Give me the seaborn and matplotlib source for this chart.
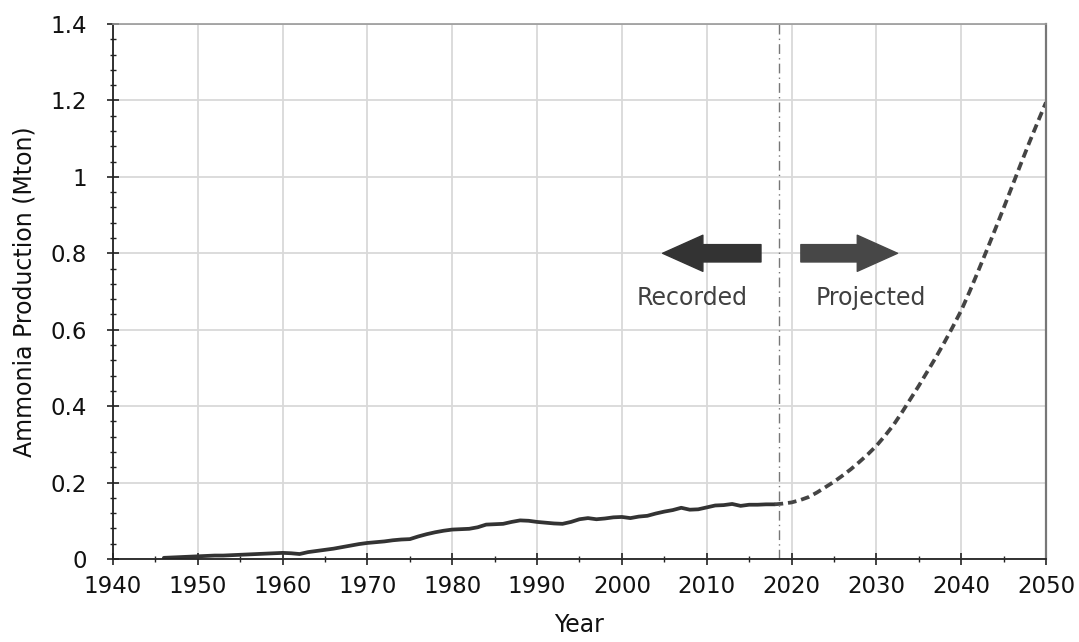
import numpy as np
import pandas as pd
import matplotlib
matplotlib.use("Agg")
import matplotlib.pyplot as plt
from matplotlib.ticker import MultipleLocator
import seaborn as sns

# recorded production
rec_years = list(range(1946, 2019))
rec_values = [0.003, 0.004, 0.005, 0.006, 0.007, 0.008, 0.009, 0.009, 0.010, 0.011,
              0.012, 0.013, 0.014, 0.015, 0.016, 0.015, 0.013, 0.018, 0.021, 0.024,
              0.027, 0.031, 0.035, 0.039, 0.042, 0.044, 0.046, 0.049, 0.051, 0.052,
              0.059, 0.065, 0.070, 0.074, 0.077, 0.078, 0.079, 0.083, 0.090, 0.091,
              0.092, 0.097, 0.101, 0.100, 0.097, 0.095, 0.093, 0.092, 0.097, 0.104,
              0.107, 0.104, 0.106, 0.109, 0.110, 0.107, 0.111, 0.113, 0.119, 0.124,
              0.128, 0.134, 0.129, 0.130, 0.135, 0.140, 0.141, 0.144, 0.139, 0.142,
              0.142, 0.143, 0.143]

# projection
proj_years = list(range(2018, 2051))
proj_values = [0.143, 0.145, 0.148, 0.154, 0.162, 0.174, 0.188, 0.202, 0.218, 0.235,
               0.254, 0.274, 0.296, 0.322, 0.350, 0.383, 0.418, 0.453, 0.490, 0.527,
               0.566, 0.607, 0.650, 0.700, 0.753, 0.807, 0.862, 0.918, 0.975, 1.032,
               1.088, 1.142, 1.195]

split_year = 2018.5

sns.set_style("whitegrid")
plt.rcParams['font.family'] = ['DejaVu Sans']

fig = plt.figure(figsize=(10.79, 6.42), dpi=100)
ax = fig.add_axes([0.1047, 0.1293, 0.8647, 0.8333])

df_rec = pd.DataFrame({'Year': rec_years, 'Production': rec_values})
df_proj = pd.DataFrame({'Year': proj_years, 'Production': proj_values})

sns.lineplot(data=df_rec, x='Year', y='Production', ax=ax, color='#333333', lw=2.7)
sns.lineplot(data=df_proj, x='Year', y='Production', ax=ax, color='#444444', lw=2.7,
             linestyle=(0, (2.3, 1.3)))

ax.axvline(split_year, color='#777777', lw=1.0, linestyle=(0, (7, 3, 1, 3)))

# arrows
ax.annotate('', xy=(2004.8, 0.8), xytext=(2016.4, 0.8),
            arrowprops=dict(arrowstyle='simple,head_width=2.6,head_length=2.9,tail_width=1.25',
                            color='#333333', shrinkA=0, shrinkB=0, mutation_scale=10))
ax.annotate('', xy=(2032.5, 0.8), xytext=(2021.1, 0.8),
            arrowprops=dict(arrowstyle='simple,head_width=2.6,head_length=2.9,tail_width=1.25',
                            color='#474747', shrinkA=0, shrinkB=0, mutation_scale=10))
ax.text(2008.3, 0.683, 'Recorded', ha='center', va='center', fontsize=17, color='#404040')
ax.text(2029.4, 0.683, 'Projected', ha='center', va='center', fontsize=17, color='#404040')

ax.set_xlim(1940, 2050)
ax.set_ylim(0, 1.4)
ax.xaxis.set_major_locator(MultipleLocator(10))
ax.xaxis.set_minor_locator(MultipleLocator(5))
ax.yaxis.set_minor_locator(MultipleLocator(0.04))
ax.set_yticks(np.arange(0, 1.41, 0.2))
ax.set_yticklabels(['0', '0.2', '0.4', '0.6', '0.8', '1', '1.2', '1.4'])

ax.grid(True, which='major', color='#d9d9d9', lw=1.3)
ax.grid(False, which='minor')
ax.tick_params(axis='both', which='major', direction='inout', length=9, width=1.2,
               color='#222222', labelsize=16.5, labelcolor='#111111')
ax.tick_params(axis='x', which='major', pad=7)
ax.tick_params(axis='y', which='major', pad=14)
ax.tick_params(axis='both', which='minor', direction='inout', length=5, width=1.0,
               color='#222222')
ax.tick_params(axis='x', which='both', bottom=True)
ax.tick_params(axis='y', which='both', left=True)

for side in ['left', 'bottom']:
    ax.spines[side].set_color('#222222')
    ax.spines[side].set_linewidth(1.3)
ax.spines['right'].set_color('#777777')
ax.spines['right'].set_linewidth(1.6)
ax.spines['top'].set_color('#999999')
ax.spines['top'].set_linewidth(1.2)

ax.set_xlabel('Year', fontsize=17, color='#111111', labelpad=11)
ax.set_ylabel('Ammonia Production (Mton)', fontsize=17, color='#111111', labelpad=10)

fig.savefig('out.png', dpi=100)
